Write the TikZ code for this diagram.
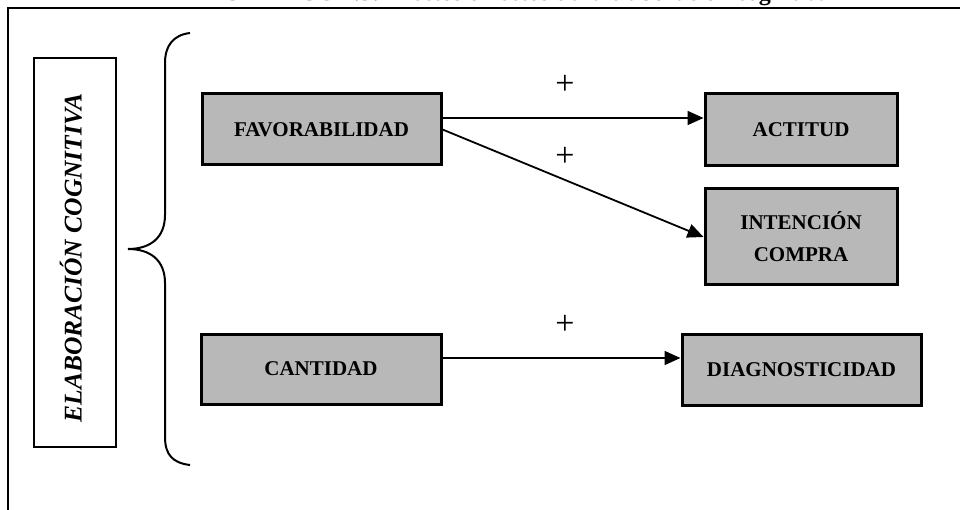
\documentclass[tikz,border=0pt]{standalone}
\usepackage{fontspec}
\setmainfont{Liberation Serif}
\usetikzlibrary{arrows.meta}
\definecolor{boxgray}{RGB}{184,184,184}
\begin{document}
\begin{tikzpicture}[x=1pt,y=-1pt,
  varbox/.style={draw=black,line width=3pt,fill=boxgray,inner sep=0pt,
    font=\fontsize{21}{32}\selectfont\bfseries,align=center},
  conn/.style={line width=1.8pt,-{Triangle[length=16pt,width=14pt]}},
  plus/.style={font=\fontsize{34}{34}\selectfont,inner sep=0pt},
  frameline/.style={line width=2pt},
  bracel/.style={line width=2pt}]
\useasboundingbox (0,0) rectangle (960,510);
% outer frame (extends past the picture on the right and bottom)
\draw[frameline] (8,530) -- (8,8) -- (980,8);
% title, cut off by the top edge as in the reference
\node[anchor=base,font=\fontsize{24}{24}\selectfont\bfseries,inner sep=0pt] (title) at (526,0.5)
  {GRÁFICO 1.3: Efectos directos de la elaboración cognitiva};
% left box
\node[draw=black,line width=2.5pt,minimum width=82pt,minimum height=389pt,inner sep=0pt] (elab) at (75,252.5) {};
\node[rotate=90,font=\fontsize{25.5}{25.5}\selectfont\bfseries\itshape,inner sep=0pt] (elabtxt) at (71,258)
  {ELABORACIÓN COGNITIVA};
% brace
\draw[bracel] (190,33) .. controls (173,35) and (165,46) .. (165,63) -- (165,215)
  .. controls (165,238) and (150,249) .. (128,249)
  .. controls (150,249) and (165,260) .. (165,283) -- (165,437)
  .. controls (165,455) and (173,463) .. (190,465);
% boxes
\node[varbox,minimum width=239pt,minimum height=71pt] (fav) at (321.5,129.5) {FAVORABILIDAD};
\node[varbox,minimum width=192pt,minimum height=72pt] (act) at (801,130) {ACTITUD};
\node[varbox,minimum width=192pt,minimum height=96pt] (int) at (801,237) {INTENCIÓN\\COMPRA};
\node[varbox,minimum width=240pt,minimum height=70pt] (cant) at (321,369) {CANTIDAD};
\node[varbox,minimum width=239pt,minimum height=71pt] (diag) at (801.5,369.5) {DIAGNOSTICIDAD};
% connectors
\draw[conn] ([yshift=11.5pt]fav.east) -- ([yshift=12pt]act.west);
\draw[conn] (fav.east) -- (int.west);
\draw[conn] ([yshift=11pt]cant.east) -- ([yshift=11.5pt]diag.west);
% signs
\node[plus] (p1) at (565,85) {+};
\node[plus] (p2) at (565,157) {+};
\node[plus] (p3) at (565,325) {+};
\end{tikzpicture}
\end{document}
